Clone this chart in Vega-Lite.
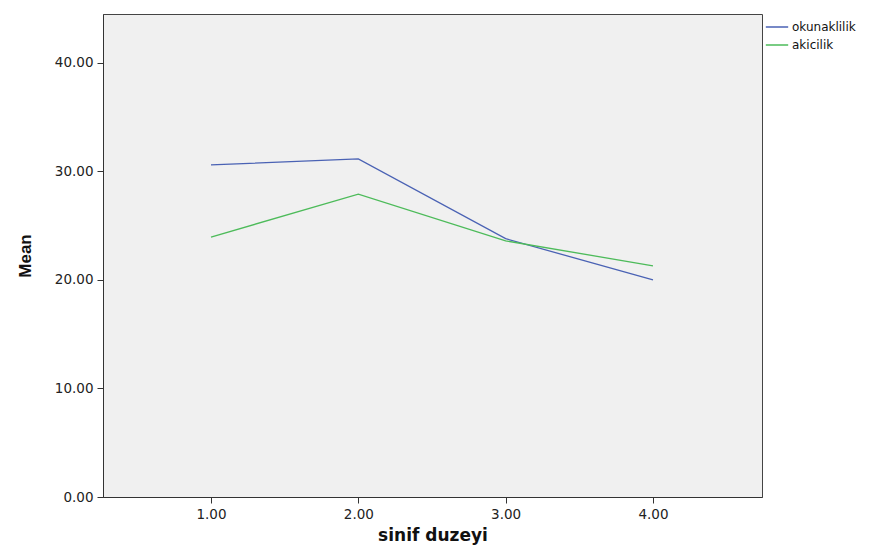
{
  "$schema": "https://vega.github.io/schema/vega-lite/v6.json",
  "autosize": "none",
  "width": 659,
  "height": 483,
  "padding": {"left": 103, "top": 14, "right": 115, "bottom": 49},
  "background": "white",
  "config": {
    "view": {"fill": "#F0F0F0", "stroke": "#444444", "strokeWidth": 1},
    "font": "DejaVu Sans"
  },
  "data": {
    "values": [
      {"grade": 1, "series": "okunaklilik", "mean": 30.6},
      {"grade": 2, "series": "okunaklilik", "mean": 31.15},
      {"grade": 3, "series": "okunaklilik", "mean": 23.8},
      {"grade": 4, "series": "okunaklilik", "mean": 20.0},
      {"grade": 1, "series": "akicilik", "mean": 23.95},
      {"grade": 2, "series": "akicilik", "mean": 27.9},
      {"grade": 3, "series": "akicilik", "mean": 23.6},
      {"grade": 4, "series": "akicilik", "mean": 21.3}
    ]
  },
  "mark": {"type": "line", "strokeWidth": 1.3},
  "encoding": {
    "x": {
      "field": "grade", "type": "quantitative",
      "scale": {"domain": [0.267, 4.74], "nice": false, "zero": false},
      "axis": {
        "values": [1, 2, 3, 4], "format": ".2f", "grid": false,
        "title": "sinif  duzeyi", "titleFontSize": 17, "titleFontWeight": "bold",
        "titleFont": "DejaVu Sans", "titleColor": "#111111", "titlePadding": 7,
        "labelFontSize": 13.5, "labelColor": "#222222", "labelPadding": 4,
        "tickSize": 6, "tickColor": "#333333", "domainColor": "#333333"
      }
    },
    "y": {
      "field": "mean", "type": "quantitative",
      "scale": {"domain": [0, 44.5], "nice": false},
      "axis": {
        "values": [0, 10, 20, 30, 40], "format": ".2f", "grid": false,
        "title": "Mean", "titleFontSize": 17, "titleFontWeight": "bold",
        "titleColor": "#111111", "titlePadding": 20, "titleFont": "Liberation Sans",
        "labelFontSize": 13.5, "labelColor": "#222222", "labelPadding": 4,
        "tickSize": 6, "tickColor": "#333333", "domainColor": "#333333"
      }
    },
    "color": {
      "field": "series", "type": "nominal",
      "scale": {"domain": ["okunaklilik", "akicilik"], "range": ["#4a62b4", "#4dbb5a"]},
      "legend": {
        "title": null, "orient": "none", "legendX": 662, "legendY": 1,
        "symbolType": "stroke", "symbolSize": 500, "symbolStrokeWidth": 1.5,
        "labelFontSize": 12, "labelColor": "#111111", "rowPadding": 0, "labelOffset": 3,
        "labelFont": "DejaVu Sans"
      }
    }
  }
}
